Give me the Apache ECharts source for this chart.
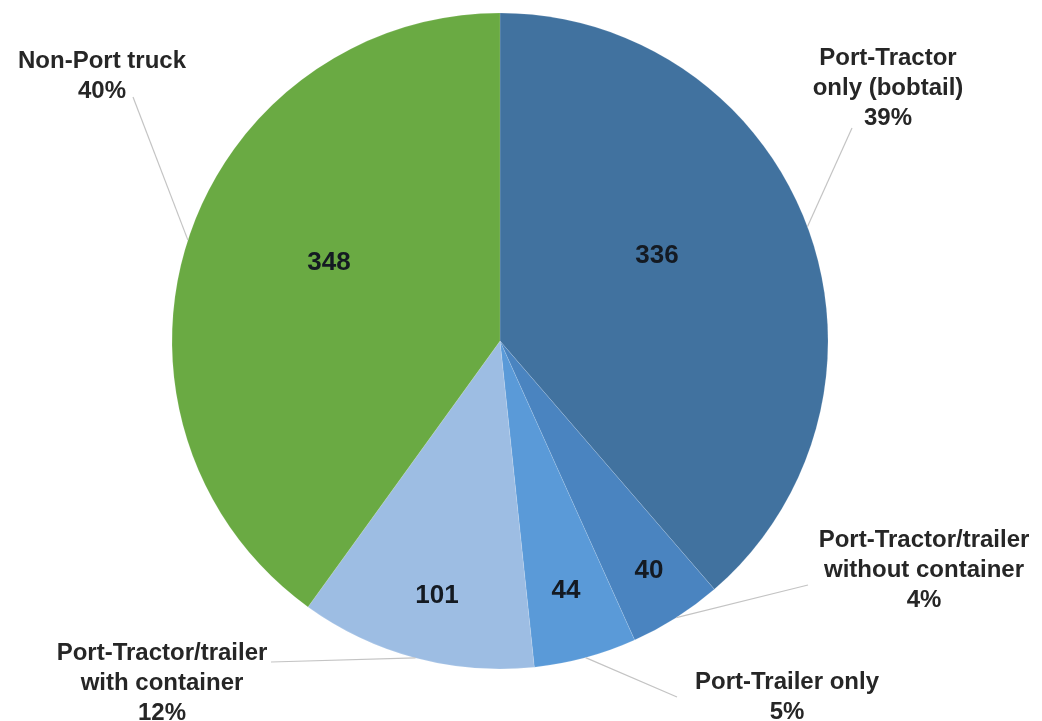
<!DOCTYPE html>
<html>
<head>
<meta charset="utf-8">
<script src="https://cdn.jsdelivr.net/npm/echarts@6/dist/echarts.min.js"></script>
<style>
html,body{margin:0;padding:0;background:#fff;}
#chart{width:1042px;height:721px;}
</style>
</head>
<body>
<div id="chart"></div>
<script>
// ---- data ----
const categories = ['Port-Tractor\nonly (bobtail)', 'Port-Tractor/trailer\nwithout container', 'Port-Trailer only', 'Port-Tractor/trailer\nwith container', 'Non-Port truck'];
const values = [336, 40, 44, 101, 348];
const percentLabels = ['39%', '4%', '5%', '12%', '40%'];

// ---- styling / layout ----
const colors = ['#41729f', '#4a84c0', '#5a9ad8', '#9dbde3', '#6aaa43'];
const outerPos = [
  { x: 888, y: 88, end: [852, 128] },
  { x: 924, y: 570, end: [808, 585] },
  { x: 787, y: 697, end: [677, 697] },
  { x: 162, y: 683, end: [271, 662] },
  { x: 102, y: 76, end: [133, 97] }
];
const innerPos = [[657, 256], [649, 571], [566, 591], [437, 596], [329, 263]];
const FONT = '"Liberation Sans", Arial, sans-serif';

const pieData = categories.map((c, i) => ({ name: c, value: values[i], itemStyle: { color: colors[i] } }));

const chart = echarts.init(document.getElementById('chart'), null, { renderer: 'canvas' });
chart.setOption({
  backgroundColor: '#ffffff',
  animation: false,
  series: [
    {
      type: 'pie',
      center: [500, 341],
      radius: 328,
      startAngle: 90,
      clockwise: true,
      avoidLabelOverlap: false,
      data: pieData,
      itemStyle: { borderColor: 'rgba(255,255,255,0.25)', borderWidth: 0.5 },
      label: {
        show: true,
        position: 'inside',
        formatter: '{c}',
        fontFamily: FONT,
        fontWeight: 'bold',
        fontSize: 26,
        color: '#141a22'
      },
      labelLine: { show: false },
      labelLayout: function (p) {
        const pos = innerPos[p.dataIndex];
        return { x: pos[0], y: pos[1], align: 'center', verticalAlign: 'middle' };
      },
      emphasis: { disabled: true }
    },
    {
      type: 'pie',
      center: [500, 341],
      radius: 328,
      startAngle: 90,
      clockwise: true,
      silent: true,
      avoidLabelOverlap: false,
      data: categories.map((c, i) => ({ name: c, value: values[i] })),
      itemStyle: { color: 'rgba(0,0,0,0)' },
      label: {
        show: true,
        position: 'outside',
        formatter: function (p) { return p.name + '\n' + percentLabels[p.dataIndex]; },
        fontFamily: FONT,
        fontWeight: 'bold',
        fontSize: 24,
        lineHeight: 30,
        align: 'center',
        color: '#262626'
      },
      labelLine: {
        show: true,
        length: 20,
        length2: 20,
        lineStyle: { color: '#c4c4c4', width: 1.2 }
      },
      labelLayout: function (p) {
        const o = outerPos[p.dataIndex];
        const start = p.labelLinePoints ? p.labelLinePoints[0] : o.end;
        return {
          x: o.x, y: o.y, align: 'center', verticalAlign: 'middle',
          labelLinePoints: [start, o.end, o.end]
        };
      },
      emphasis: { disabled: true },
      z: 3
    }
  ]
});
</script>
</body>
</html>
